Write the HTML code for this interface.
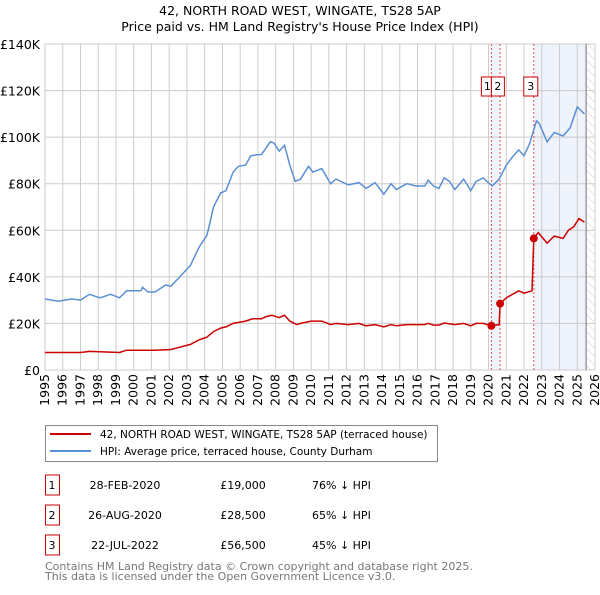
<!DOCTYPE html>
<html><head><meta charset="utf-8"><style>
body{margin:0;background:#fff;font-family:"Liberation Sans","DejaVu Sans",sans-serif;}
svg text{font-family:"DejaVu Sans","Liberation Sans",sans-serif;}
</style></head><body>
<svg id="chart" width="600" height="590" xmlns="http://www.w3.org/2000/svg">
<defs><pattern id="hatch" width="6" height="6" patternUnits="userSpaceOnUse" patternTransform="rotate(-45)"><line x1="0" y1="0" x2="0" y2="6" stroke="#ccc" stroke-width="1"/></pattern></defs>
<text x="300" y="15" text-anchor="middle" font-size="12.5">42, NORTH ROAD WEST, WINGATE, TS28 5AP</text>
<text x="300" y="31" text-anchor="middle" font-size="12.5">Price paid vs. HM Land Registry's House Price Index (HPI)</text>
<g id="plot"></g>
<g>
<rect x="45.5" y="425.5" width="392" height="36" fill="#fff" stroke="#888"/>
<line x1="50" y1="434" x2="91" y2="434" stroke="#cc0000" stroke-width="2"/>
<text x="100" y="438" font-size="10.5">42, NORTH ROAD WEST, WINGATE, TS28 5AP (terraced house)</text>
<line x1="50" y1="451" x2="91" y2="451" stroke="#5b8fd4" stroke-width="2"/>
<text x="100" y="455" font-size="10.5">HPI: Average price, terraced house, County Durham</text>
</g>
<g id="table" font-size="11"></g>
<text x="45" y="570" font-size="11" fill="#777">Contains HM Land Registry data © Crown copyright and database right 2025.</text>
<text x="45" y="580" font-size="11" fill="#777">This data is licensed under the Open Government Licence v3.0.</text>
</svg>
<script>
const hpiYears=[1995,1995.75,1996.5,1997,1997.5,1998.1,1998.7,1999.2,1999.6,2000.4,2000.5,2000.8,2001.2,2001.8,2002.1,2002.6,2003.2,2003.7,2004.1,2004.2,2004.5,2004.9,2005.2,2005.6,2005.9,2006.3,2006.6,2007.0,2007.2,2007.7,2007.9,2008.2,2008.5,2008.8,2009.1,2009.4,2009.85,2010.1,2010.6,2011.1,2011.4,2012.1,2012.7,2013.1,2013.6,2014.1,2014.5,2014.8,2015.4,2015.9,2016.4,2016.6,2016.9,2017.2,2017.5,2017.8,2018.1,2018.6,2019.0,2019.3,2019.7,2020.2,2020.6,2021.0,2021.4,2021.7,2022.0,2022.3,2022.7,2022.85,2023.3,2023.7,2024.2,2024.6,2025.0,2025.2,2025.4];
const hpiValues=[30.5,29.5,30.5,30,32.5,31,32.5,31,34,34,35.5,33.5,33.5,36.5,36,40,45,53,57.5,60,70,76,77,85,87.5,88,92,92.5,92.5,98,97.5,94,96.5,88,81,82,87.5,85,86.5,80,82,79.5,80.5,78,80.5,75.5,80,77.5,80,79,79,81.5,79,78,82.5,81,77.5,82,77,81,82.5,79,82,88,92,94.5,92,97,107,106,98,102,100.5,104,113,111.5,110];
const ppYears=[1995,1997,1997.5,1999.2,1999.6,2001.2,2002.1,2002.6,2003.2,2003.7,2004.1,2004.5,2004.9,2005.2,2005.6,2006.3,2006.7,2007.2,2007.5,2007.8,2008.2,2008.5,2008.8,2009.2,2009.4,2010.0,2010.6,2011.1,2011.4,2012.1,2012.7,2013.1,2013.6,2014.1,2014.5,2014.8,2015.4,2016.4,2016.6,2016.9,2017.2,2017.5,2018.1,2018.6,2019.0,2019.3,2019.7,2020.16,2020.6,2020.65,2021.0,2021.7,2022.0,2022.45,2022.55,2022.8,2023.3,2023.7,2024.2,2024.5,2024.8,2025.1,2025.4];
const ppValues=[7.5,7.5,8,7.5,8.5,8.5,8.8,9.8,11,13,14,16.5,18,18.5,20,21,22,22,23,23.5,22.5,23.5,21,19.5,20,21,21,19.5,20,19.5,20,19,19.5,18.5,19.5,19,19.5,19.5,20,19.3,19.3,20.2,19.5,20,19,20,20,19,19.5,28.5,31,34,33,34,56.5,59,54.5,57.5,56.5,60,61.5,65,63.5];
const saleLabels=["1","2","3"];
const saleYears=[2020.16,2020.65,2022.55];
const saleValues=[19,28.5,56.5];
const saleDates=["28-FEB-2020","26-AUG-2020","22-JUL-2022"];
const salePrices=["£19,000","£28,500","£56,500"];
const saleHpi=["76% ↓ HPI","65% ↓ HPI","45% ↓ HPI"];
const yTicks=[0,20,40,60,80,100,120,140];
const yTickLabels=["£0","£20K","£40K","£60K","£80K","£100K","£120K","£140K"];
const xTicks=[1995,1996,1997,1998,1999,2000,2001,2002,2003,2004,2005,2006,2007,2008,2009,2010,2011,2012,2013,2014,2015,2016,2017,2018,2019,2020,2021,2022,2023,2024,2025,2026];

const NS="http://www.w3.org/2000/svg";
const X0=45,X1=595,Y0=370,Y1=44;
const xs=y=>X0+(y-1995)/(2026-1995)*(X1-X0);
const ys=v=>Y0-v/140*(Y0-Y1);
const plot=document.getElementById('plot');
function mk(tag,attrs,parent){const e=document.createElementNS(NS,tag);for(const k in attrs)e.setAttribute(k,attrs[k]);(parent||plot).appendChild(e);return e;}
let e=mk('rect',{x:xs(2020.16),y:Y1,width:xs(2020.65)-xs(2020.16),height:Y0-Y1,fill:'#eef3fc'});


e=mk('rect',{x:xs(2022.55),y:Y1,width:xs(2025.5)-xs(2022.55),height:Y0-Y1,fill:'#eef3fc'});


e=mk('rect',{x:xs(2025.5),y:Y1,width:X1-xs(2025.5),height:Y0-Y1,fill:'url(#hatch)'});


yTicks.forEach((t,i)=>{
 const g=mk('line',{x1:X0,x2:X1,y1:ys(t),y2:ys(t),stroke:'#ccc'});
 
 
 const l=mk('text',{x:X0-5,y:ys(t)+5,'text-anchor':'end','font-size':'12.5'});
 l.textContent=yTickLabels[i];
 
 
});
xTicks.forEach(t=>{
 const g=mk('line',{x1:xs(t),x2:xs(t),y1:Y1,y2:Y0,stroke:'#ccc'});
 
 
 const l=mk('text',{x:0,y:0,'font-size':'12.5','text-anchor':'end',transform:`translate(${xs(t)+4},${Y0+4}) rotate(-90)`});
 l.textContent=t;
 
 
});
e=mk('line',{x1:xs(2025.5),x2:xs(2025.5),y1:Y1,y2:Y0,stroke:'#888','stroke-width':1.2});


saleYears.forEach((y,i)=>{
 const l=mk('line',{x1:xs(y),x2:xs(y),y1:Y1,y2:Y0,stroke:'#e05050','stroke-dasharray':'2,2'});
 
 
});
function path(xa,va){return xa.map((y,i)=>(i?'L':'M')+xs(y).toFixed(1)+','+ys(va[i]).toFixed(1)).join('');}
e=mk('path',{d:path(hpiYears,hpiValues),fill:'none',stroke:'#5b8fd4','stroke-width':1.5});


e=mk('path',{d:path(ppYears,ppValues),fill:'none',stroke:'#cc0000','stroke-width':1.5});


saleYears.forEach((y,i)=>{
 const c=mk('circle',{cx:xs(y),cy:ys(saleValues[i]),r:4,fill:'#cc0000'});
 
 
});
saleLabels.forEach((s,i)=>{
 const bx=i===0?xs(saleYears[0])-10:(i===1?xs(saleYears[0]):xs(saleYears[2])-10);
 const bw=i===0?10:(i===1?13:14);
 const r=mk('rect',{x:bx,y:77,width:bw,height:19,fill:'#fff',stroke:'#cc0000'});
 
 
 const t=mk('text',{x:bx+bw/2+(i===0?1:0),y:90,'text-anchor':'middle','font-size':'11'});
 t.textContent=s;
 
 
});
const tbl=document.getElementById('table');
saleLabels.forEach((s,i)=>{
 const y=483+i*30;
 const r=mk('rect',{x:45.5,y:y-8,width:14,height:20,fill:'#fff',stroke:'#cc0000'},tbl);
 
 
 const vals=[[52,s,'middle'],[125,saleDates[i],'middle'],[243,salePrices[i],'middle'],[312,saleHpi[i],'start']];
 vals.forEach(v=>{
  const t=mk('text',{x:v[0],y:y+6,'text-anchor':v[2]},tbl);
  t.textContent=v[1];
  
  
 });
});
</script>
</body></html>
